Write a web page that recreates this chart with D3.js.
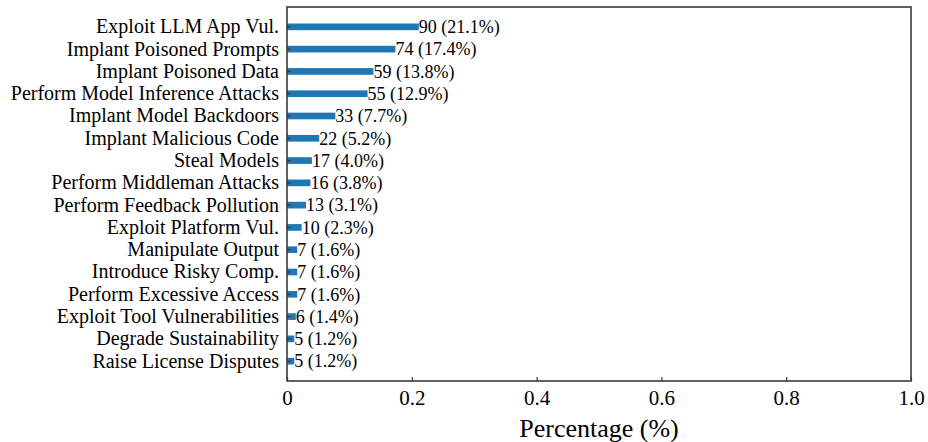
<!DOCTYPE html>
<html>
<head>
<meta charset="utf-8">
<script src="https://cdn.jsdelivr.net/npm/d3@7"></script>
<style>
  html, body { margin: 0; padding: 0; background: #fff; }
  svg { display: block; }
  text { font-family: "Liberation Serif", "Times New Roman", serif; fill: #000; }
</style>
</head>
<body>
<svg id="chart" width="928" height="442"></svg>
<script>
// Attack techniques and how many times each was observed
const categories = [
  "Exploit LLM App Vul.",
  "Implant Poisoned Prompts",
  "Implant Poisoned Data",
  "Perform Model Inference Attacks",
  "Implant Model Backdoors",
  "Implant Malicious Code",
  "Steal Models",
  "Perform Middleman Attacks",
  "Perform Feedback Pollution",
  "Exploit Platform Vul.",
  "Manipulate Output",
  "Introduce Risky Comp.",
  "Perform Excessive Access",
  "Exploit Tool Vulnerabilities",
  "Degrade Sustainability",
  "Raise License Disputes"
];
const counts = [90, 74, 59, 55, 33, 22, 17, 16, 13, 10, 7, 7, 7, 6, 5, 5];
const xTicks = [0, 0.2, 0.4, 0.6, 0.8, 1.0];
const xTickLabels = ["0", "0.2", "0.4", "0.6", "0.8", "1.0"];

const total = d3.sum(counts);
const rows = categories.map((c, i) => ({ name: c, count: counts[i], share: counts[i] / total }));

const svg = d3.select("#chart");
const m = { left: 287, right: 911, top: 7, bottom: 381 };

const x = d3.scaleLinear().domain([0, 1]).range([m.left, m.right]);
const y = d3.scaleBand().domain(categories).range([m.top, m.bottom]).paddingOuter(0.74).paddingInner(0.7);

const barColor = "#1f77b4";
const axisColor = "#3a3a3a";

// bars
svg.append("g").selectAll("rect").data(rows).join("rect")
  .attr("x", x(0))
  .attr("y", d => y(d.name))
  .attr("width", d => x(d.share) - x(0))
  .attr("height", y.bandwidth())
  .attr("fill", barColor);

// value labels
svg.append("g").selectAll("text").data(rows).join("text")
  .attr("x", d => x(d.share))
  .attr("y", d => y(d.name) + y.bandwidth() / 2)
  .attr("dy", "0.35em")
  .style("font-size", "18px")
  .text(d => `${d.count} (${(d.share * 100).toFixed(1)}%)`);

// y axis: inward ticks, labels on the left
const yAxis = d3.axisLeft(y).tickSize(-4).tickPadding(8);
const gy = svg.append("g").attr("transform", `translate(${m.left},0)`).call(yAxis);
gy.select(".domain").remove();
gy.selectAll(".tick line").attr("stroke", axisColor).attr("stroke-width", 1.2);
gy.selectAll(".tick text").style("font-size", "20px").style("font-family", "Liberation Serif, serif").attr("fill", "#000");

// x axis: inward ticks
const xAxis = d3.axisBottom(x).tickValues(xTicks).tickFormat((d, i) => xTickLabels[i]).tickSize(-4).tickPadding(9);
const gx = svg.append("g").attr("transform", `translate(0,${m.bottom})`).call(xAxis);
gx.select(".domain").remove();
gx.selectAll(".tick line").attr("stroke", axisColor).attr("stroke-width", 1.2);
gx.selectAll(".tick text").style("font-size", "21px").style("font-family", "Liberation Serif, serif").attr("fill", "#000");

// frame
svg.append("rect")
  .attr("x", m.left).attr("y", m.top)
  .attr("width", m.right - m.left).attr("height", m.bottom - m.top)
  .attr("fill", "none").attr("stroke", axisColor).attr("stroke-width", 1.6);

// axis title
svg.append("text")
  .attr("x", (m.left + m.right) / 2)
  .attr("y", 437)
  .attr("text-anchor", "middle")
  .style("font-size", "26px")
  .text("Percentage (%)");
</script>
</body>
</html>
